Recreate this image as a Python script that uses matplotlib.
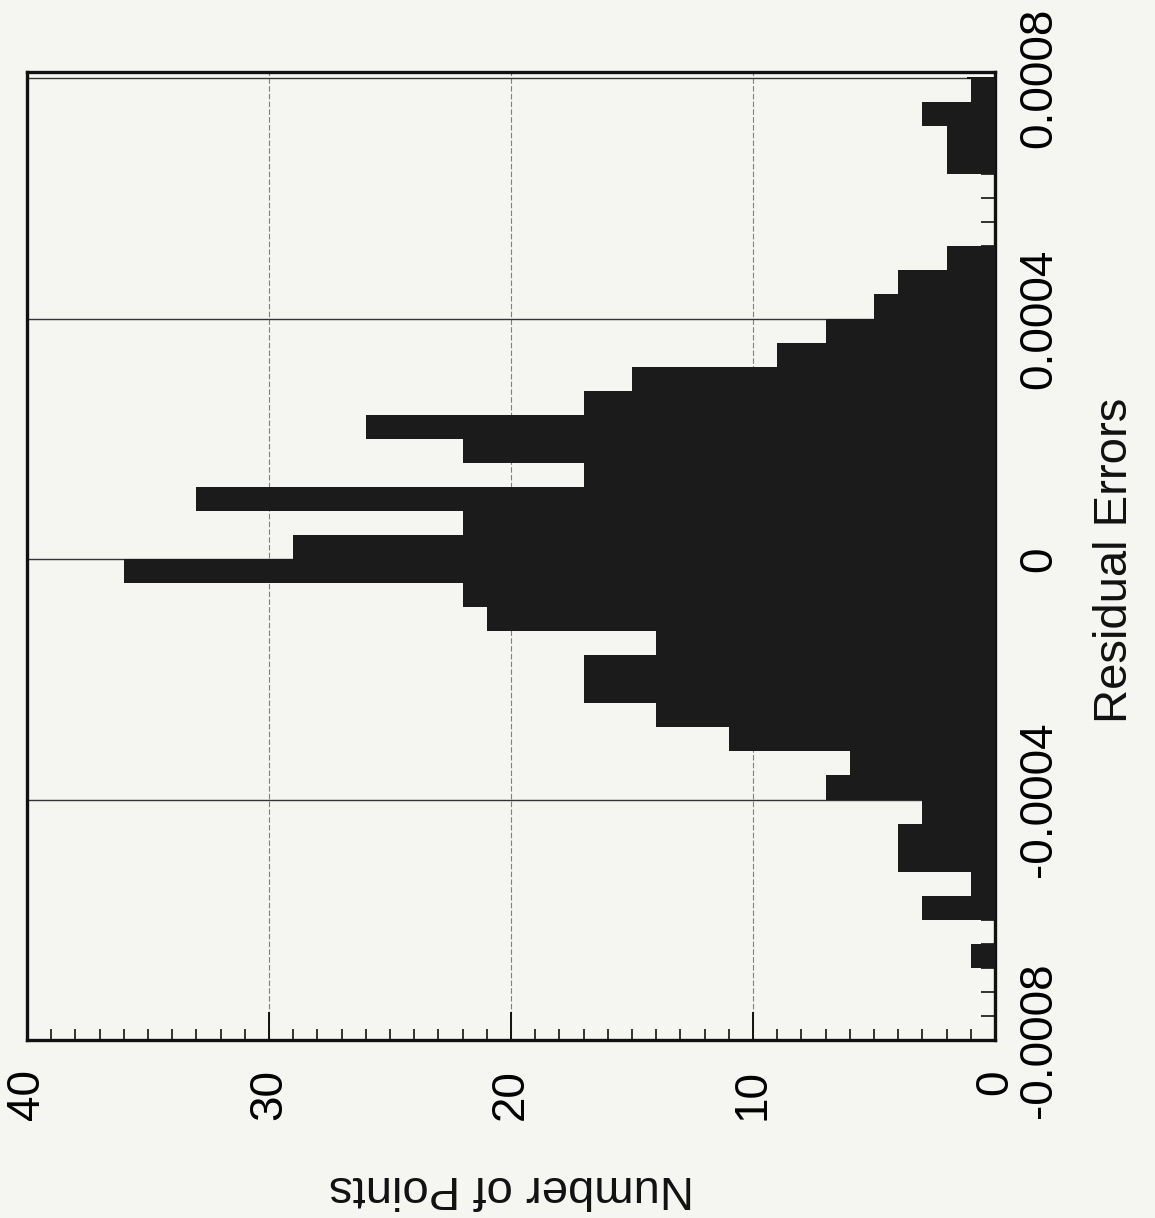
import matplotlib.pyplot as plt
import numpy as np
from matplotlib.ticker import MultipleLocator

plt.rcParams['font.family'] = ['Liberation Sans', 'DejaVu Sans']

# histogram of residual errors, bins of 0.00004 starting at -0.0008
bin_start = -0.0008
bin_width = 0.00004
counts = [0, 0, 0, 1, 0, 3, 1, 4, 4, 3,
          7, 6, 11, 14, 17, 17, 14, 21, 22, 36,
          29, 22, 33, 17, 22, 26, 17, 15, 9, 7,
          5, 4, 2, 0, 0, 0, 2, 2, 3, 1]

count_ticks = [0, 10, 20, 30, 40]
resid_ticks = [-0.0008, -0.0004, 0, 0.0004, 0.0008]
resid_labels = ['-0.0008', '-0.0004', '0', '0.0004', '0.0008']

W, H = 1155, 1218
fig = plt.figure(figsize=(W / 100, H / 100), dpi=100, facecolor='#f5f5f2')
ax = fig.add_axes([27 / W, 1 - 1040 / H, 968 / W, 968 / H])
ax.set_facecolor('#f5f5f2')

edges = bin_start + bin_width * np.arange(len(counts))
ax.barh(edges, counts, height=bin_width, align='edge', color='#1b1b1b', zorder=3)

ax.set_xlim(40, 0)
ax.set_ylim(-0.0008, 0.00081)

# grid: dashed for counts, solid for residuals
for c in count_ticks[1:-1]:
    ax.axvline(c, color='#808080', lw=0.8, ls=(0, (5, 2)), zorder=1)
for r in resid_ticks[1:]:
    ax.axhline(r, color='#333333', lw=1.0, zorder=1)

ax.set_xticks(count_ticks)
ax.set_xticklabels([str(c) for c in count_ticks])
ax.xaxis.set_minor_locator(MultipleLocator(1))
ax.yaxis.tick_right()
ax.set_yticks(resid_ticks)
ax.set_yticklabels(resid_labels, rotation=90, va='center', ha='left')
ax.yaxis.set_minor_locator(MultipleLocator(bin_width))

ax.tick_params(axis='x', which='both', direction='in', top=False, bottom=True,
               labelrotation=90, labelsize=33, pad=21, color='#111111')
ax.tick_params(axis='x', which='major', length=20, width=1.4)
ax.tick_params(axis='x', which='minor', length=8, width=1.2)
ax.tick_params(axis='y', which='both', direction='in', left=False, right=True,
               labelleft=False, labelright=True, labelsize=33,
               pad=16, color='#111111')
ax.tick_params(axis='y', which='major', length=20, width=1.4)
ax.tick_params(axis='y', which='minor', length=10, width=1.2)

for s in ax.spines.values():
    s.set_linewidth(2.4)
    s.set_color('#111111')

fig.text(511 / W, 1 - 1188 / H, 'Number of Points', rotation=180,
         ha='center', va='center', fontsize=34, color='#111111')
fig.text(1115 / W, 1 - 560 / H, 'Residual Errors', rotation=90,
         ha='center', va='center', fontsize=34, color='#111111')

fig.savefig('out.png', dpi=100, facecolor=fig.get_facecolor())
